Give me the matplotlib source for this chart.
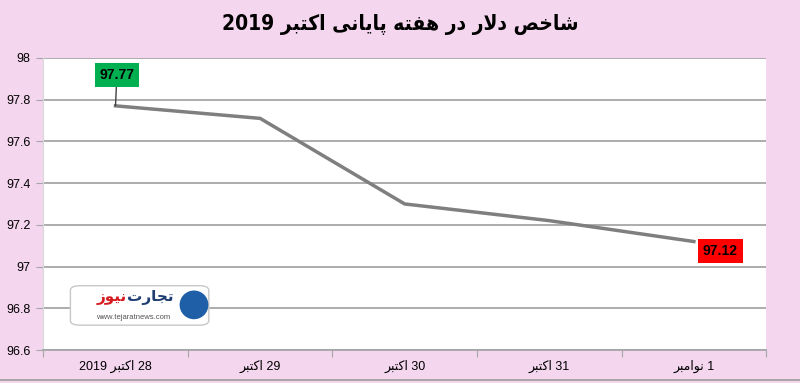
import re
import matplotlib
matplotlib.use('Agg')
import matplotlib.pyplot as plt
from matplotlib.patches import FancyBboxPatch, Ellipse
from matplotlib.lines import Line2D

# data
days = ['28 اکتبر 2019', '29 اکتبر', '30 اکتبر', '31 اکتبر', '1 نوامبر']
values = [97.77, 97.71, 97.30, 97.22, 97.12]
yticks = [96.6, 96.8, 97, 97.2, 97.4, 97.6, 97.8, 98]
title = 'شاخص دلار در هفته پایانی اکتبر 2019'

# simple arabic/persian shaping since matplotlib has no text shaping
forms = {
    '\u0627': ('\uFE8D', '\uFE8E', None, None),
    '\u0628': ('\uFE8F', '\uFE90', '\uFE91', '\uFE92'),
    '\u062A': ('\uFE95', '\uFE96', '\uFE97', '\uFE98'),
    '\u062C': ('\uFE9D', '\uFE9E', '\uFE9F', '\uFEA0'),
    '\u062E': ('\uFEA5', '\uFEA6', '\uFEA7', '\uFEA8'),
    '\u062F': ('\uFEA9', '\uFEAA', None, None),
    '\u0631': ('\uFEAD', '\uFEAE', None, None),
    '\u0632': ('\uFEAF', '\uFEB0', None, None),
    '\u0634': ('\uFEB5', '\uFEB6', '\uFEB7', '\uFEB8'),
    '\u0635': ('\uFEB9', '\uFEBA', '\uFEBB', '\uFEBC'),
    '\u0641': ('\uFED1', '\uFED2', '\uFED3', '\uFED4'),
    '\u0644': ('\uFEDD', '\uFEDE', '\uFEDF', '\uFEE0'),
    '\u0645': ('\uFEE1', '\uFEE2', '\uFEE3', '\uFEE4'),
    '\u0646': ('\uFEE5', '\uFEE6', '\uFEE7', '\uFEE8'),
    '\u0647': ('\uFEE9', '\uFEEA', '\uFEEB', '\uFEEC'),
    '\u0648': ('\uFEED', '\uFEEE', None, None),
    '\u067E': ('\uFB56', '\uFB57', '\uFB58', '\uFB59'),
    '\u06A9': ('\uFB8E', '\uFB8F', '\uFB90', '\uFB91'),
    '\u06CC': ('\uFBFC', '\uFBFD', '\uFBFE', '\uFBFF'),
}


def shape(s):
    out = []
    i = 0
    while i < len(s):
        c = s[i]
        if c not in forms:
            out.append(c)
            i += 1
            continue
        prev = s[i - 1] if i > 0 else None
        pj = prev in forms and forms[prev][2] is not None
        if c == '\u0644' and i + 1 < len(s) and s[i + 1] == '\u0627':
            out.append('\uFEFC' if pj else '\uFEFB')
            i += 2
            continue
        nxt = s[i + 1] if i + 1 < len(s) else None
        nj = forms[c][2] is not None and nxt in forms
        iso, fin, ini, med = forms[c]
        if pj and nj:
            out.append(med)
        elif pj:
            out.append(fin)
        elif nj:
            out.append(ini)
        else:
            out.append(iso)
        i += 1
    return ''.join(out)


def rtl(s):
    v = shape(s)[::-1]
    return re.sub(r'[0-9.]+', lambda m: m.group(0)[::-1], v)


plt.rcParams['font.family'] = ['Liberation Sans', 'DejaVu Sans']

fig = plt.figure(figsize=(8, 3.83), dpi=100)
fig.patch.set_facecolor('#F4D6EE')
ax = fig.add_axes([0.054, 0.086, 0.9037, 0.763])
ax.set_facecolor('white')

x = list(range(len(values)))
ax.plot(x, values, color='#7F7F7F', lw=2.5, solid_joinstyle='miter', zorder=3)

ax.set_xlim(-0.5, len(values) - 0.5)
ax.set_ylim(96.6, 98)
ax.set_yticks(yticks)
ax.set_yticklabels(['%g' % t for t in yticks])
ax.yaxis.grid(True, color='#A6A6A6', lw=1.3)
ax.set_axisbelow(True)

ax.set_xticks([i + 0.5 for i in range(-1, len(values))], minor=False)
ax.set_xticklabels([])
ax.set_xticks(x, minor=True)
ax.set_xticklabels([rtl(d) for d in days], minor=True, fontsize=9)
ax.tick_params(axis='x', which='minor', length=0, pad=7)
ax.tick_params(axis='x', which='major', length=5, color='#A6A6A6')
ax.tick_params(axis='y', length=5, color='#A6A6A6', labelsize=9, pad=4)

for side in ['top', 'right']:
    ax.spines[side].set_visible(False)
ax.spines['left'].set_color('#D9D9D9')
ax.spines['bottom'].set_color('#A6A6A6')
ax.spines['bottom'].set_linewidth(1.3)

# value callouts
ax.annotate('%.2f' % values[0], xy=(x[0], values[0]), xytext=(1, 22),
            textcoords='offset points', ha='center', va='center',
            fontsize=10, fontweight='bold', color='black',
            bbox=dict(boxstyle='square,pad=0.35', fc='#00B050', ec='none'),
            arrowprops=dict(arrowstyle='-', color='#404040', lw=1,
                            shrinkA=0, shrinkB=0), zorder=5)
ax.annotate('%.2f' % values[-1], xy=(x[-1], values[-1]), xytext=(19, -7),
            textcoords='offset points', ha='center', va='center',
            fontsize=10, fontweight='bold', color='black',
            bbox=dict(boxstyle='square,pad=0.35', fc='#FF0000', ec='none'),
            zorder=5)

fig.text(0.5, 0.935, rtl(title), ha='center', va='center',
         fontsize=15, fontweight='bold', family=['DejaVu Sans'],
         fontstretch='condensed')

# watermark logo
logo = FancyBboxPatch((0.092, 0.155), 0.165, 0.095, transform=fig.transFigure,
                      boxstyle='round,pad=0.004,rounding_size=0.012',
                      fc='white', ec='#C8C8C8', lw=1, zorder=6)
fig.patches.append(logo)
fig.patches.append(Ellipse((0.2425, 0.204), 0.036, 0.075,
                           transform=fig.transFigure,
                           fc='#1F5FA8', ec='none', zorder=7))
fig.text(0.188, 0.224, rtl('تجارت'), ha='center', va='center',
         fontsize=11, fontweight='bold', color='#1F3F73', zorder=8,
         family=['DejaVu Sans'])
fig.text(0.139, 0.224, rtl('نیوز'), ha='center', va='center',
         fontsize=11, fontweight='bold', color='#D71920', zorder=8,
         family=['DejaVu Sans'])
fig.text(0.166, 0.172, 'www.tejaratnews.com', ha='center', va='center',
         fontsize=5.5, color='#555555', zorder=8)

fig.add_artist(Line2D([0, 1], [0.008, 0.008], transform=fig.transFigure,
                      color='#9A9A9A', lw=1.2))

fig.savefig('out.png', dpi=100, facecolor=fig.get_facecolor())
